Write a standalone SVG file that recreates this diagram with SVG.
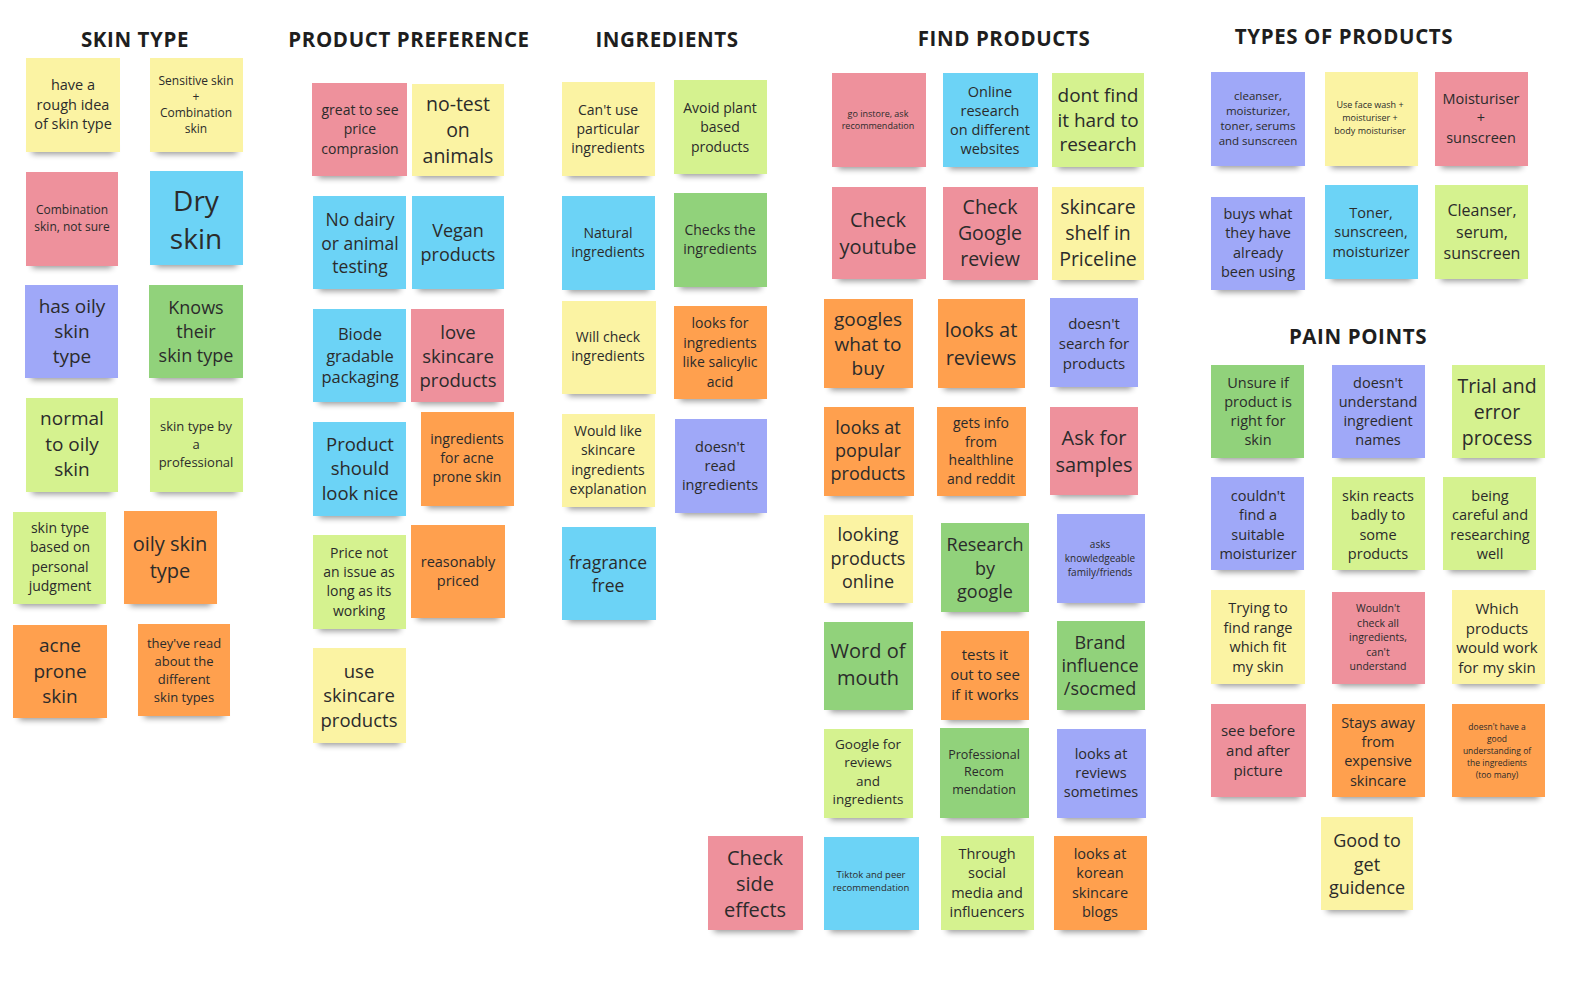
<svg xmlns="http://www.w3.org/2000/svg" width="1576" height="990" viewBox="0 0 1576 990">
  <defs>
    <filter id="soft" x="-20%" y="-100%" width="140%" height="300%">
      <feGaussianBlur stdDeviation="3"/>
    </filter>
  </defs>
  <style>
    .sh{fill:#000;opacity:.42;filter:url(#soft)}
    .yl{fill:#fbf3a3}
    .pk{fill:#ee919c}
    .bl{fill:#6cd3f6}
    .lg{fill:#d5f28f}
    .gr{fill:#91d27b}
    .pu{fill:#9fa8f8}
    .or{fill:#ffa04e}
    text{font-family:"Open Sans","Liberation Sans",sans-serif;fill:#2b2b2b;text-anchor:middle;dominant-baseline:central}
    text.title{font-weight:700;font-size:20.5px;fill:#1e1e1e;dominant-baseline:alphabetic;letter-spacing:.6px}
  </style>
  <rect width="1576" height="990" fill="#ffffff"/>

  <!-- column headings -->
  <g id="titles">
    <text class="title" x="135" y="47">SKIN TYPE</text>
    <text class="title" x="409" y="47">PRODUCT PREFERENCE</text>
    <text class="title" x="667" y="47">INGREDIENTS</text>
    <text class="title" x="1004" y="46">FIND PRODUCTS</text>
    <text class="title" x="1344" y="44">TYPES OF PRODUCTS</text>
    <text class="title" x="1358" y="344">PAIN POINTS</text>
  </g>

  <!-- SKIN TYPE -->
  <g id="skin-type">
    <g id="n01"><rect class="sh" x="32" y="144" width="82" height="10"/><rect class="yl" x="26" y="58" width="94" height="94"/><text x="73" y="84" font-size="14.5"><tspan x="73">have a</tspan><tspan x="73" dy="19.5">rough idea</tspan><tspan x="73" dy="19.5">of skin type</tspan></text></g>
    <g id="n02"><rect class="sh" x="156" y="144" width="81" height="10"/><rect class="yl" x="150" y="58" width="93" height="94"/><text x="196" y="80" font-size="12"><tspan x="196">Sensitive skin</tspan><tspan x="196" dy="16">+</tspan><tspan x="196" dy="16">Combination</tspan><tspan x="196" dy="16">skin</tspan></text></g>
    <g id="n03"><rect class="sh" x="32" y="258" width="80" height="10"/><rect class="pk" x="26" y="172" width="92" height="94"/><text x="72" y="209" font-size="12"><tspan x="72">Combination</tspan><tspan x="72" dy="17">skin, not sure</tspan></text></g>
    <g id="n04"><rect class="sh" x="156" y="257" width="81" height="10"/><rect class="bl" x="150" y="171" width="93" height="94"/><text x="196" y="200" font-size="28"><tspan x="196">Dry</tspan><tspan x="196" dy="38">skin</tspan></text></g>
    <g id="n05"><rect class="sh" x="31" y="370" width="81" height="10"/><rect class="pu" x="25" y="285" width="93" height="93"/><text x="72" y="306" font-size="19"><tspan x="72">has oily</tspan><tspan x="72" dy="25">skin</tspan><tspan x="72" dy="25">type</tspan></text></g>
    <g id="n06"><rect class="sh" x="155" y="370" width="82" height="10"/><rect class="gr" x="149" y="285" width="94" height="93"/><text x="196" y="307" font-size="18"><tspan x="196">Knows</tspan><tspan x="196" dy="24">their</tspan><tspan x="196" dy="24">skin type</tspan></text></g>
    <g id="n07"><rect class="sh" x="32" y="484" width="80" height="10"/><rect class="lg" x="26" y="398" width="92" height="94"/><text x="72" y="418" font-size="19"><tspan x="72">normal</tspan><tspan x="72" dy="25.5">to oily</tspan><tspan x="72" dy="25.5">skin</tspan></text></g>
    <g id="n08"><rect class="sh" x="156" y="484" width="81" height="10"/><rect class="lg" x="150" y="398" width="93" height="94"/><text x="196" y="426" font-size="13"><tspan x="196">skin type by</tspan><tspan x="196" dy="18">a</tspan><tspan x="196" dy="18">professional</tspan></text></g>
    <g id="n09"><rect class="sh" x="19" y="596" width="81" height="10"/><rect class="lg" x="13" y="512" width="93" height="92"/><text x="60" y="527" font-size="14"><tspan x="60">skin type</tspan><tspan x="60" dy="19.3">based on</tspan><tspan x="60" dy="19.3">personal</tspan><tspan x="60" dy="19.3">judgment</tspan></text></g>
    <g id="n10"><rect class="sh" x="130" y="596" width="81" height="10"/><rect class="or" x="124" y="511" width="93" height="93"/><text x="170" y="543" font-size="20"><tspan x="170">oily skin</tspan><tspan x="170" dy="27">type</tspan></text></g>
    <g id="n11"><rect class="sh" x="19" y="710" width="82" height="10"/><rect class="or" x="13" y="625" width="94" height="93"/><text x="60" y="645" font-size="19"><tspan x="60">acne</tspan><tspan x="60" dy="25.5">prone</tspan><tspan x="60" dy="25.5">skin</tspan></text></g>
    <g id="n12"><rect class="sh" x="144" y="708" width="80" height="10"/><rect class="or" x="138" y="624" width="92" height="92"/><text x="184" y="643" font-size="13"><tspan x="184">they've read</tspan><tspan x="184" dy="18">about the</tspan><tspan x="184" dy="18">different</tspan><tspan x="184" dy="18">skin types</tspan></text></g>
  </g>

  <!-- PRODUCT PREFERENCE -->
  <g id="product-preference">
    <g id="n13"><rect class="sh" x="318" y="168" width="83" height="10"/><rect class="pk" x="312" y="83" width="95" height="93"/><text x="360" y="109" font-size="14"><tspan x="360">great to see</tspan><tspan x="360" dy="19.3">price</tspan><tspan x="360" dy="19.3">comprasion</tspan></text></g>
    <g id="n14"><rect class="sh" x="418" y="168" width="80" height="10"/><rect class="yl" x="412" y="84" width="92" height="92"/><text x="458" y="103" font-size="19.5"><tspan x="458">no-test</tspan><tspan x="458" dy="26">on</tspan><tspan x="458" dy="26">animals</tspan></text></g>
    <g id="n15"><rect class="sh" x="319" y="281" width="81" height="10"/><rect class="bl" x="313" y="196" width="93" height="93"/><text x="360" y="219" font-size="17.5"><tspan x="360">No dairy</tspan><tspan x="360" dy="23.5">or animal</tspan><tspan x="360" dy="23.5">testing</tspan></text></g>
    <g id="n16"><rect class="sh" x="418" y="281" width="80" height="10"/><rect class="bl" x="412" y="196" width="92" height="93"/><text x="458" y="230" font-size="18"><tspan x="458">Vegan</tspan><tspan x="458" dy="23.5">products</tspan></text></g>
    <g id="n17"><rect class="sh" x="319" y="394" width="81" height="10"/><rect class="bl" x="313" y="309" width="93" height="93"/><text x="360" y="333" font-size="16.5"><tspan x="360">Biode</tspan><tspan x="360" dy="21.7">gradable</tspan><tspan x="360" dy="21.7">packaging</tspan></text></g>
    <g id="n18"><rect class="sh" x="417" y="394" width="81" height="10"/><rect class="pk" x="411" y="309" width="93" height="93"/><text x="458" y="331" font-size="18.5"><tspan x="458">love</tspan><tspan x="458" dy="24">skincare</tspan><tspan x="458" dy="24">products</tspan></text></g>
    <g id="n19"><rect class="sh" x="319" y="508" width="81" height="10"/><rect class="bl" x="313" y="422" width="93" height="94"/><text x="360" y="443" font-size="18.5"><tspan x="360">Product</tspan><tspan x="360" dy="24.3">should</tspan><tspan x="360" dy="24.3">look nice</tspan></text></g>
    <g id="n20"><rect class="sh" x="427" y="498" width="81" height="10"/><rect class="or" x="421" y="412" width="93" height="94"/><text x="467" y="438" font-size="14"><tspan x="467">ingredients</tspan><tspan x="467" dy="19.2">for acne</tspan><tspan x="467" dy="19.2">prone skin</tspan></text></g>
    <g id="n21"><rect class="sh" x="319" y="621" width="81" height="10"/><rect class="lg" x="313" y="535" width="93" height="94"/><text x="359" y="552" font-size="14"><tspan x="359">Price not</tspan><tspan x="359" dy="19.2">an issue as</tspan><tspan x="359" dy="19.2">long as its</tspan><tspan x="359" dy="19.2">working</tspan></text></g>
    <g id="n22"><rect class="sh" x="417" y="610" width="82" height="10"/><rect class="or" x="411" y="525" width="94" height="93"/><text x="458" y="561" font-size="14.5"><tspan x="458">reasonably</tspan><tspan x="458" dy="19">priced</tspan></text></g>
    <g id="n23"><rect class="sh" x="319" y="735" width="81" height="10"/><rect class="yl" x="313" y="648" width="93" height="95"/><text x="359" y="670" font-size="18.5"><tspan x="359">use</tspan><tspan x="359" dy="24.3">skincare</tspan><tspan x="359" dy="24.3">products</tspan></text></g>
  </g>

  <!-- INGREDIENTS -->
  <g id="ingredients">
    <g id="n24"><rect class="sh" x="568" y="168" width="81" height="10"/><rect class="yl" x="562" y="82" width="93" height="94"/><text x="608" y="109" font-size="14"><tspan x="608">Can't use</tspan><tspan x="608" dy="19">particular</tspan><tspan x="608" dy="19">ingredients</tspan></text></g>
    <g id="n25"><rect class="sh" x="680" y="166" width="81" height="10"/><rect class="lg" x="674" y="80" width="93" height="94"/><text x="720" y="107" font-size="14"><tspan x="720">Avoid plant</tspan><tspan x="720" dy="19.3">based</tspan><tspan x="720" dy="19.3">products</tspan></text></g>
    <g id="n26"><rect class="sh" x="568" y="282" width="81" height="10"/><rect class="bl" x="562" y="196" width="93" height="94"/><text x="608" y="232" font-size="14"><tspan x="608">Natural</tspan><tspan x="608" dy="18.5">ingredients</tspan></text></g>
    <g id="n27"><rect class="sh" x="680" y="279" width="81" height="10"/><rect class="gr" x="674" y="193" width="93" height="94"/><text x="720" y="229" font-size="14"><tspan x="720">Checks the</tspan><tspan x="720" dy="19">ingredients</tspan></text></g>
    <g id="n28"><rect class="sh" x="568" y="386" width="82" height="10"/><rect class="yl" x="562" y="301" width="94" height="93"/><text x="608" y="336" font-size="14"><tspan x="608">Will check</tspan><tspan x="608" dy="19">ingredients</tspan></text></g>
    <g id="n29"><rect class="sh" x="680" y="391" width="81" height="10"/><rect class="or" x="674" y="306" width="93" height="93"/><text x="720" y="322" font-size="14"><tspan x="720">looks for</tspan><tspan x="720" dy="19.5">ingredients</tspan><tspan x="720" dy="19.5">like salicylic</tspan><tspan x="720" dy="19.5">acid</tspan></text></g>
    <g id="n30"><rect class="sh" x="568" y="499" width="81" height="10"/><rect class="yl" x="562" y="414" width="93" height="93"/><text x="608" y="430" font-size="14"><tspan x="608">Would like</tspan><tspan x="608" dy="19.3">skincare</tspan><tspan x="608" dy="19.3">ingredients</tspan><tspan x="608" dy="19.3">explanation</tspan></text></g>
    <g id="n31"><rect class="sh" x="681" y="505" width="80" height="10"/><rect class="pu" x="675" y="419" width="92" height="94"/><text x="720" y="446" font-size="14.5"><tspan x="720">doesn't</tspan><tspan x="720" dy="19">read</tspan><tspan x="720" dy="19">ingredients</tspan></text></g>
    <g id="n32"><rect class="sh" x="568" y="612" width="82" height="10"/><rect class="bl" x="562" y="527" width="94" height="93"/><text x="608" y="562" font-size="17.5"><tspan x="608">fragrance</tspan><tspan x="608" dy="23">free</tspan></text></g>
    <g id="n54"><rect class="sh" x="714" y="922" width="83" height="10"/><rect class="pk" x="708" y="836" width="95" height="94"/><text x="755" y="857" font-size="20"><tspan x="755">Check</tspan><tspan x="755" dy="26">side</tspan><tspan x="755" dy="26">effects</tspan></text></g>
  </g>

  <!-- FIND PRODUCTS -->
  <g id="find-products">
    <g id="n33"><rect class="sh" x="838" y="159" width="82" height="10"/><rect class="pk" x="832" y="73" width="94" height="94"/><text x="878" y="113" font-size="9"><tspan x="878">go instore, ask</tspan><tspan x="878" dy="12">recommendation</tspan></text></g>
    <g id="n34"><rect class="sh" x="949" y="159" width="83" height="10"/><rect class="bl" x="943" y="73" width="95" height="94"/><text x="990" y="91" font-size="14.5"><tspan x="990">Online</tspan><tspan x="990" dy="19">research</tspan><tspan x="990" dy="19">on different</tspan><tspan x="990" dy="19">websites</tspan></text></g>
    <g id="n35"><rect class="sh" x="1058" y="159" width="80" height="10"/><rect class="lg" x="1052" y="73" width="92" height="94"/><text x="1098" y="95" font-size="19"><tspan x="1098">dont find</tspan><tspan x="1098" dy="24.5">it hard to</tspan><tspan x="1098" dy="24.5">research</tspan></text></g>
    <g id="n36"><rect class="sh" x="838" y="271" width="82" height="10"/><rect class="pk" x="832" y="187" width="94" height="92"/><text x="878" y="219" font-size="20"><tspan x="878">Check</tspan><tspan x="878" dy="27">youtube</tspan></text></g>
    <g id="n37"><rect class="sh" x="949" y="272" width="83" height="10"/><rect class="pk" x="943" y="187" width="95" height="93"/><text x="990" y="206" font-size="19.5"><tspan x="990">Check</tspan><tspan x="990" dy="26">Google</tspan><tspan x="990" dy="26">review</tspan></text></g>
    <g id="n38"><rect class="sh" x="1058" y="272" width="80" height="10"/><rect class="yl" x="1052" y="187" width="92" height="93"/><text x="1098" y="206" font-size="19.5"><tspan x="1098">skincare</tspan><tspan x="1098" dy="26">shelf in</tspan><tspan x="1098" dy="26">Priceline</tspan></text></g>
    <g id="n39"><rect class="sh" x="830" y="380" width="77" height="10"/><rect class="or" x="824" y="299" width="89" height="89"/><text x="868" y="319" font-size="19"><tspan x="868">googles</tspan><tspan x="868" dy="24.5">what to</tspan><tspan x="868" dy="24.5">buy</tspan></text></g>
    <g id="n40"><rect class="sh" x="944" y="380" width="75" height="10"/><rect class="or" x="938" y="299" width="87" height="89"/><text x="981" y="329" font-size="20"><tspan x="981">looks at</tspan><tspan x="981" dy="28">reviews</tspan></text></g>
    <g id="n41"><rect class="sh" x="1056" y="379" width="76" height="10"/><rect class="pu" x="1050" y="298" width="88" height="89"/><text x="1094" y="323" font-size="15"><tspan x="1094">doesn't</tspan><tspan x="1094" dy="20">search for</tspan><tspan x="1094" dy="20">products</tspan></text></g>
    <g id="n42"><rect class="sh" x="830" y="488" width="78" height="10"/><rect class="or" x="824" y="407" width="90" height="89"/><text x="868" y="427" font-size="18"><tspan x="868">looks at</tspan><tspan x="868" dy="23">popular</tspan><tspan x="868" dy="23">products</tspan></text></g>
    <g id="n43"><rect class="sh" x="943" y="488" width="77" height="10"/><rect class="or" x="937" y="407" width="89" height="89"/><text x="981" y="422" font-size="14"><tspan x="981">gets info</tspan><tspan x="981" dy="18.5">from</tspan><tspan x="981" dy="18.5">healthline</tspan><tspan x="981" dy="18.5">and reddit</tspan></text></g>
    <g id="n44"><rect class="sh" x="1056" y="487" width="76" height="10"/><rect class="pk" x="1050" y="407" width="88" height="88"/><text x="1094" y="437" font-size="20"><tspan x="1094">Ask for</tspan><tspan x="1094" dy="26.5">samples</tspan></text></g>
    <g id="n45"><rect class="sh" x="830" y="595" width="77" height="10"/><rect class="yl" x="824" y="515" width="89" height="88"/><text x="868" y="534" font-size="18"><tspan x="868">looking</tspan><tspan x="868" dy="23.5">products</tspan><tspan x="868" dy="23.5">online</tspan></text></g>
    <g id="n46"><rect class="sh" x="947" y="604" width="76" height="10"/><rect class="gr" x="941" y="523" width="88" height="89"/><text x="985" y="544" font-size="18"><tspan x="985">Research</tspan><tspan x="985" dy="23.5">by</tspan><tspan x="985" dy="23.5">google</tspan></text></g>
    <g id="n47"><rect class="sh" x="1063" y="595" width="76" height="10"/><rect class="pu" x="1057" y="514" width="88" height="89"/><text x="1100" y="544" font-size="10"><tspan x="1100">asks</tspan><tspan x="1100" dy="14">knowledgeable</tspan><tspan x="1100" dy="14">family/friends</tspan></text></g>
    <g id="n48"><rect class="sh" x="830" y="702" width="77" height="10"/><rect class="gr" x="824" y="622" width="89" height="88"/><text x="868" y="650" font-size="20"><tspan x="868">Word of</tspan><tspan x="868" dy="27">mouth</tspan></text></g>
    <g id="n49"><rect class="sh" x="947" y="712" width="76" height="10"/><rect class="or" x="941" y="631" width="88" height="89"/><text x="985" y="654" font-size="15"><tspan x="985">tests it</tspan><tspan x="985" dy="20">out to see</tspan><tspan x="985" dy="20">if it works</tspan></text></g>
    <g id="n50"><rect class="sh" x="1063" y="702" width="76" height="10"/><rect class="gr" x="1057" y="621" width="88" height="89"/><text x="1100" y="642" font-size="18"><tspan x="1100">Brand</tspan><tspan x="1100" dy="23">influence</tspan><tspan x="1100" dy="23">/socmed</tspan></text></g>
    <g id="n51"><rect class="sh" x="830" y="810" width="77" height="10"/><rect class="lg" x="824" y="729" width="89" height="89"/><text x="868" y="744" font-size="13.5"><tspan x="868">Google for</tspan><tspan x="868" dy="18.3">reviews</tspan><tspan x="868" dy="18.3">and</tspan><tspan x="868" dy="18.3">ingredients</tspan></text></g>
    <g id="n52"><rect class="sh" x="946" y="810" width="77" height="10"/><rect class="gr" x="940" y="728" width="89" height="90"/><text x="984" y="754" font-size="12.5"><tspan x="984">Professional</tspan><tspan x="984" dy="17.3">Recom</tspan><tspan x="984" dy="17.3">mendation</tspan></text></g>
    <g id="n53"><rect class="sh" x="1063" y="810" width="77" height="10"/><rect class="pu" x="1057" y="729" width="89" height="89"/><text x="1101" y="753" font-size="14.5"><tspan x="1101">looks at</tspan><tspan x="1101" dy="19">reviews</tspan><tspan x="1101" dy="19">sometimes</tspan></text></g>
    <g id="n55"><rect class="sh" x="830" y="922" width="83" height="10"/><rect class="bl" x="824" y="837" width="95" height="93"/><text x="871" y="874" font-size="9.5"><tspan x="871">Tiktok and peer</tspan><tspan x="871" dy="13">recommendation</tspan></text></g>
    <g id="n56"><rect class="sh" x="947" y="922" width="81" height="10"/><rect class="lg" x="941" y="836" width="93" height="94"/><text x="987" y="853" font-size="14.5"><tspan x="987">Through</tspan><tspan x="987" dy="19.3">social</tspan><tspan x="987" dy="19.3">media and</tspan><tspan x="987" dy="19.3">influencers</tspan></text></g>
    <g id="n57"><rect class="sh" x="1060" y="922" width="81" height="10"/><rect class="or" x="1054" y="836" width="93" height="94"/><text x="1100" y="853" font-size="14.5"><tspan x="1100">looks at</tspan><tspan x="1100" dy="19.3">korean</tspan><tspan x="1100" dy="19.3">skincare</tspan><tspan x="1100" dy="19.3">blogs</tspan></text></g>
  </g>

  <!-- TYPES OF PRODUCTS -->
  <g id="types-of-products">
    <g id="n58"><rect class="sh" x="1217" y="158" width="82" height="10"/><rect class="pu" x="1211" y="72" width="94" height="94"/><text x="1258" y="95" font-size="11.5"><tspan x="1258">cleanser,</tspan><tspan x="1258" dy="15">moisturizer,</tspan><tspan x="1258" dy="15">toner, serums</tspan><tspan x="1258" dy="15">and sunscreen</tspan></text></g>
    <g id="n59"><rect class="sh" x="1331" y="158" width="81" height="10"/><rect class="yl" x="1325" y="72" width="93" height="94"/><text x="1370" y="104" font-size="9"><tspan x="1370">Use face wash +</tspan><tspan x="1370" dy="13">moisturiser +</tspan><tspan x="1370" dy="13">body moisturiser</tspan></text></g>
    <g id="n60"><rect class="sh" x="1441" y="158" width="81" height="10"/><rect class="pk" x="1435" y="72" width="93" height="94"/><text x="1481" y="98" font-size="14.5"><tspan x="1481">Moisturiser</tspan><tspan x="1481" dy="19.3">+</tspan><tspan x="1481" dy="19.3">sunscreen</tspan></text></g>
    <g id="n61"><rect class="sh" x="1217" y="282" width="82" height="10"/><rect class="pu" x="1211" y="197" width="94" height="93"/><text x="1258" y="213" font-size="14.5"><tspan x="1258">buys what</tspan><tspan x="1258" dy="19.3">they have</tspan><tspan x="1258" dy="19.3">already</tspan><tspan x="1258" dy="19.3">been using</tspan></text></g>
    <g id="n62"><rect class="sh" x="1331" y="271" width="81" height="10"/><rect class="bl" x="1325" y="185" width="93" height="94"/><text x="1371" y="212" font-size="14.5"><tspan x="1371">Toner,</tspan><tspan x="1371" dy="19.3">sunscreen,</tspan><tspan x="1371" dy="19.3">moisturizer</tspan></text></g>
    <g id="n63"><rect class="sh" x="1441" y="271" width="81" height="10"/><rect class="lg" x="1435" y="185" width="93" height="94"/><text x="1482" y="210" font-size="16"><tspan x="1482">Cleanser,</tspan><tspan x="1482" dy="21.5">serum,</tspan><tspan x="1482" dy="21.5">sunscreen</tspan></text></g>
  </g>

  <!-- PAIN POINTS -->
  <g id="pain-points">
    <g id="n64"><rect class="sh" x="1217" y="450" width="81" height="10"/><rect class="gr" x="1211" y="365" width="93" height="93"/><text x="1258" y="382" font-size="14.5"><tspan x="1258">Unsure if</tspan><tspan x="1258" dy="19">product is</tspan><tspan x="1258" dy="19">right for</tspan><tspan x="1258" dy="19">skin</tspan></text></g>
    <g id="n65"><rect class="sh" x="1338" y="450" width="81" height="10"/><rect class="pu" x="1332" y="365" width="93" height="93"/><text x="1378" y="382" font-size="14.5"><tspan x="1378">doesn't</tspan><tspan x="1378" dy="19">understand</tspan><tspan x="1378" dy="19">ingredient</tspan><tspan x="1378" dy="19">names</tspan></text></g>
    <g id="n66"><rect class="sh" x="1458" y="450" width="81" height="10"/><rect class="lg" x="1452" y="365" width="93" height="93"/><text x="1497" y="385" font-size="19.5"><tspan x="1497">Trial and</tspan><tspan x="1497" dy="26">error</tspan><tspan x="1497" dy="26">process</tspan></text></g>
    <g id="n67"><rect class="sh" x="1217" y="562" width="81" height="10"/><rect class="pu" x="1211" y="477" width="93" height="93"/><text x="1258" y="495" font-size="14.5"><tspan x="1258">couldn't</tspan><tspan x="1258" dy="19.3">find a</tspan><tspan x="1258" dy="19.3">suitable</tspan><tspan x="1258" dy="19.3">moisturizer</tspan></text></g>
    <g id="n68"><rect class="sh" x="1338" y="562" width="81" height="10"/><rect class="lg" x="1332" y="477" width="93" height="93"/><text x="1378" y="495" font-size="14.5"><tspan x="1378">skin reacts</tspan><tspan x="1378" dy="19.3">badly to</tspan><tspan x="1378" dy="19.3">some</tspan><tspan x="1378" dy="19.3">products</tspan></text></g>
    <g id="n69"><rect class="sh" x="1449" y="562" width="81" height="10"/><rect class="lg" x="1443" y="477" width="93" height="93"/><text x="1490" y="495" font-size="14.5"><tspan x="1490">being</tspan><tspan x="1490" dy="19.3">careful and</tspan><tspan x="1490" dy="19.3">researching</tspan><tspan x="1490" dy="19.3">well</tspan></text></g>
    <g id="n70"><rect class="sh" x="1217" y="676" width="82" height="10"/><rect class="yl" x="1211" y="590" width="94" height="94"/><text x="1258" y="607" font-size="14.5"><tspan x="1258">Trying to</tspan><tspan x="1258" dy="19.5">find range</tspan><tspan x="1258" dy="19.5">which fit</tspan><tspan x="1258" dy="19.5">my skin</tspan></text></g>
    <g id="n71"><rect class="sh" x="1338" y="676" width="81" height="10"/><rect class="pk" x="1332" y="592" width="93" height="92"/><text x="1378" y="608" font-size="10.5"><tspan x="1378">Wouldn't</tspan><tspan x="1378" dy="14.5">check all</tspan><tspan x="1378" dy="14.5">ingredients,</tspan><tspan x="1378" dy="14.5">can't</tspan><tspan x="1378" dy="14.5">understand</tspan></text></g>
    <g id="n72"><rect class="sh" x="1458" y="676" width="81" height="10"/><rect class="yl" x="1452" y="590" width="93" height="94"/><text x="1497" y="608" font-size="15"><tspan x="1497">Which</tspan><tspan x="1497" dy="19.5">products</tspan><tspan x="1497" dy="19.5">would work</tspan><tspan x="1497" dy="19.5">for my skin</tspan></text></g>
    <g id="n73"><rect class="sh" x="1217" y="789" width="83" height="10"/><rect class="pk" x="1211" y="704" width="95" height="93"/><text x="1258" y="730" font-size="15"><tspan x="1258">see before</tspan><tspan x="1258" dy="20">and after</tspan><tspan x="1258" dy="20">picture</tspan></text></g>
    <g id="n74"><rect class="sh" x="1338" y="789" width="81" height="10"/><rect class="or" x="1332" y="704" width="93" height="93"/><text x="1378" y="722" font-size="14.5"><tspan x="1378">Stays away</tspan><tspan x="1378" dy="19.2">from</tspan><tspan x="1378" dy="19.2">expensive</tspan><tspan x="1378" dy="19.2">skincare</tspan></text></g>
    <g id="n75"><rect class="sh" x="1458" y="789" width="81" height="10"/><rect class="or" x="1452" y="704" width="93" height="93"/><text x="1497" y="726" font-size="8.5"><tspan x="1497">doesn't have a</tspan><tspan x="1497" dy="12">good</tspan><tspan x="1497" dy="12">understanding of</tspan><tspan x="1497" dy="12">the ingredients</tspan><tspan x="1497" dy="12">(too many)</tspan></text></g>
    <g id="n76"><rect class="sh" x="1327" y="902" width="80" height="10"/><rect class="yl" x="1321" y="817" width="92" height="93"/><text x="1367" y="840" font-size="18"><tspan x="1367">Good to</tspan><tspan x="1367" dy="23.5">get</tspan><tspan x="1367" dy="23.5">guidence</tspan></text></g>
  </g>
</svg>
